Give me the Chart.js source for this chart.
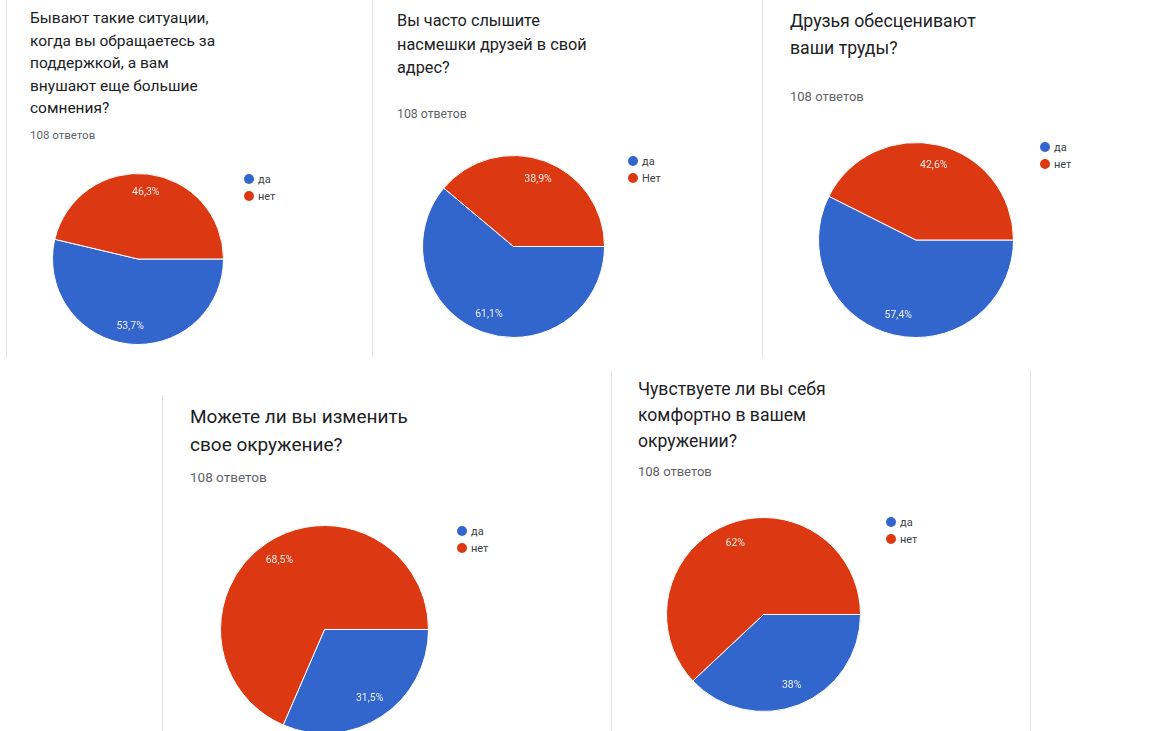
<!DOCTYPE html>
<html>
<head>
<meta charset="utf-8">
<script src="https://cdn.jsdelivr.net/npm/chart.js@4"></script>
<style>
  html, body { margin: 0; padding: 0; background: #fff; }
  body { width: 1173px; height: 731px; position: relative; overflow: hidden; font-family: Roboto, "Noto Sans", sans-serif; }
  .title { position: absolute; color: #202124; white-space: nowrap; }
  .count { position: absolute; color: #5f6368; white-space: nowrap; }
  .pie { position: absolute; }
  .legend { position: absolute; font-size: 11px; color: #3c4043; }
  .legend div { position: relative; height: 17px; line-height: 17px; padding-left: 14px; }
  .legend i { position: absolute; left: 0; top: 3px; width: 10px; height: 10px; border-radius: 50%; }
  .vline { position: absolute; width: 1px; background: #e3e3e3; }
</style>
</head>
<body>

<div class="vline" style="left:6px;top:0;height:358px"></div>
<div class="vline" style="left:372px;top:0;height:358px"></div>
<div class="vline" style="left:762px;top:0;height:358px"></div>
<div class="vline" style="left:162px;top:395px;height:336px"></div>
<div class="vline" style="left:611px;top:370px;height:361px"></div>
<div class="vline" style="left:1030px;top:370px;height:361px"></div>

<div id="panels"></div>

<script>
// data
const labels1 = ['да', 'нет'];
const values1 = [53.7, 46.3];
const labels2 = ['да', 'Нет'];
const values2 = [61.1, 38.9];
const labels3 = ['да', 'нет'];
const values3 = [57.4, 42.6];
const labels4 = ['да', 'нет'];
const values4 = [31.5, 68.5];
const labels5 = ['да', 'нет'];
const values5 = [38, 62];

const titles = [
  ['Бывают такие ситуации,', 'когда вы обращаетесь за', 'поддержкой, а вам', 'внушают еще большие', 'сомнения?'],
  ['Вы часто слышите', 'насмешки друзей в свой', 'адрес?'],
  ['Друзья обесценивают', 'ваши труды?'],
  ['Можете ли вы изменить', 'свое окружение?'],
  ['Чувствуете ли вы себя', 'комфортно в вашем', 'окружении?']
];
const answers = '108 ответов';
const colors = ['#3366cc', '#dc3912'];

// layout per panel
const panels = [
  { labels: labels1, values: values1, tx: 30, ty: 7, tfs: 15.5, tlh: 22.5, cy: 135, cfs: 11.5, px: 138, py: 259, r: 85, lx: 244, ly: 171 },
  { labels: labels2, values: values2, tx: 397, ty: 9, tfs: 16.3, tlh: 23.5, cy: 114, cfs: 12.3, px: 513.5, py: 246.5, r: 90.5, lx: 628, ly: 153 },
  { labels: labels3, values: values3, tx: 790, ty: 8, tfs: 17.7, tlh: 27, cy: 97, cfs: 13, px: 916, py: 240, r: 97, lx: 1040, ly: 139 },
  { labels: labels4, values: values4, tx: 190, ty: 403, tfs: 19, tlh: 28, cy: 477, cfs: 13.5, px: 324.5, py: 629.5, r: 103.5, lx: 457, ly: 523 },
  { labels: labels5, values: values5, tx: 638, ty: 376, tfs: 17.6, tlh: 26, cy: 472, cfs: 13, px: 763, py: 614, r: 96.5, lx: 886, ly: 514 }
];

const pctLabels = {
  id: 'pctLabels',
  afterDatasetsDraw(chart) {
    const ctx = chart.ctx;
    const meta = chart.getDatasetMeta(0);
    const data = chart.data.datasets[0].data;
    ctx.save();
    ctx.fillStyle = 'rgba(255,255,255,0.9)';
    ctx.font = '10.5px Roboto, sans-serif';
    ctx.textAlign = 'center';
    ctx.textBaseline = 'middle';
    meta.data.forEach((arc, i) => {
      const mid = (arc.startAngle + arc.endAngle) / 2;
      const d = arc.outerRadius * 0.79;
      ctx.fillText(String(data[i]).replace('.', ',') + '%', arc.x + Math.cos(mid) * d, arc.y + Math.sin(mid) * d);
    });
    ctx.restore();
  }
};

const host = document.getElementById('panels');

panels.forEach((p, n) => {
  const t = document.createElement('div');
  t.className = 'title';
  t.style.cssText = `left:${p.tx}px;top:${p.ty}px;font-size:${p.tfs}px;line-height:${p.tlh}px`;
  t.innerHTML = titles[n].join('<br>');
  host.appendChild(t);

  const c = document.createElement('div');
  c.className = 'count';
  c.style.cssText = `left:${p.tx}px;top:${p.cy - 8}px;font-size:${p.cfs}px;line-height:16px`;
  c.textContent = answers;
  host.appendChild(c);

  const size = Math.round(p.r * 2 + 2);
  const w = document.createElement('div');
  w.className = 'pie';
  w.style.cssText = `left:${p.px - size / 2}px;top:${p.py - size / 2}px;width:${size}px;height:${size}px`;
  const cv = document.createElement('canvas');
  w.appendChild(cv);
  host.appendChild(w);

  const lg = document.createElement('div');
  lg.className = 'legend';
  lg.style.cssText = `left:${p.lx}px;top:${p.ly}px`;
  lg.innerHTML = p.labels.map((l, i) => `<div><i style="background:${colors[i]}"></i>${l}</div>`).join('');
  host.appendChild(lg);

  new Chart(cv, {
    type: 'pie',
    data: {
      labels: p.labels,
      datasets: [{
        data: p.values,
        backgroundColor: colors,
        borderColor: '#ffffff',
        borderWidth: 1
      }]
    },
    options: {
      responsive: true,
      maintainAspectRatio: false,
      animation: false,
      rotation: 90,
      layout: { padding: 0 },
      plugins: {
        legend: { display: false },
        tooltip: { enabled: false }
      }
    },
    plugins: [pctLabels]
  });
});
</script>
</body>
</html>
